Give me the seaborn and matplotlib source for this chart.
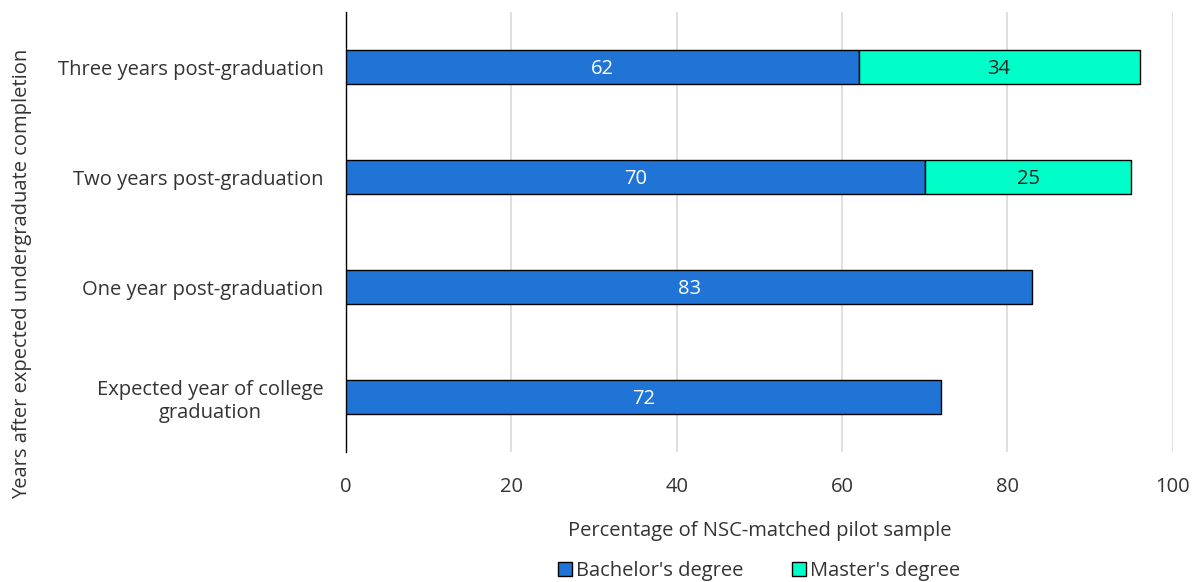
import matplotlib
matplotlib.use("Agg")
import matplotlib.pyplot as plt
import seaborn as sns
import pandas as pd

# data
categories = ["Three years post-graduation", "Two years post-graduation",
              "One year post-graduation", "Expected year of college\ngraduation"]
bachelor = [62, 70, 83, 72]
master = [34, 25, 0, 0]

blue = "#1F74D6"
teal = "#00FFC8"

sns.set_theme(style="white")
plt.rcParams["font.family"] = ["Open Sans", "DejaVu Sans"]

df = pd.DataFrame({"cat": categories, "bachelor": bachelor, "master": master})

fig, ax = plt.subplots(figsize=(11.93, 5.82), dpi=100)
fig.subplots_adjust(left=0.29, right=0.983, top=0.979, bottom=0.223)

sns.barplot(data=df, y="cat", x="bachelor", order=categories, color=blue,
            saturation=1, width=0.31, edgecolor="black", linewidth=1.0,
            ax=ax, zorder=3, label="Bachelor's degree")
bars_m = ax.barh(range(len(categories)), df["master"], left=df["bachelor"],
                 height=0.31, color=teal, edgecolor="black", linewidth=1.0,
                 zorder=3, label="Master's degree")

# value labels
for i, (b, m) in enumerate(zip(bachelor, master)):
    ax.text(b / 2, i + 0.02, str(b), ha="center", va="center", color="white",
            fontsize=14.5, zorder=4)
    if m > 0:
        ax.text(b + m / 2, i + 0.02, str(m), ha="center", va="center",
                color="#222222", fontsize=14.5, zorder=4)

# hide empty master bars
for r, m in zip(bars_m, master):
    if m == 0:
        r.set_visible(False)

ax.set_xlim(0, 100)
ax.set_ylim(3.5, -0.5)
ax.set_xticks(range(0, 101, 20))
ax.xaxis.grid(True, color="#d9d9d9", linewidth=1.2, zorder=0)
ax.yaxis.grid(False)
for s in ["top", "right", "bottom"]:
    ax.spines[s].set_visible(False)
ax.spines["left"].set_color("black")
ax.spines["left"].set_linewidth(1.0)
ax.tick_params(axis="both", length=0, labelsize=14.5, colors="#333333")
ax.tick_params(axis="x", pad=18)
ax.tick_params(axis="y", pad=16)
for t in ax.get_yticklabels():
    t.set_multialignment("center")

ax.set_xlabel("Percentage of NSC-matched pilot sample", fontsize=14.5,
              color="#333333")
ax.xaxis.set_label_coords(0.5, -0.157)
ax.set_ylabel("Years after expected undergraduate completion", fontsize=14.5,
              color="#333333")
ax.yaxis.set_label_coords(-0.38, 0.405)

ax.legend(loc="center", bbox_to_anchor=(0.5, -0.27), ncol=2, frameon=False,
          fontsize=14.5, handlelength=0.7, handleheight=0.7, handletextpad=0.2,
          columnspacing=2.4, labelcolor="#333333")

fig.savefig("out.png", dpi=100)
